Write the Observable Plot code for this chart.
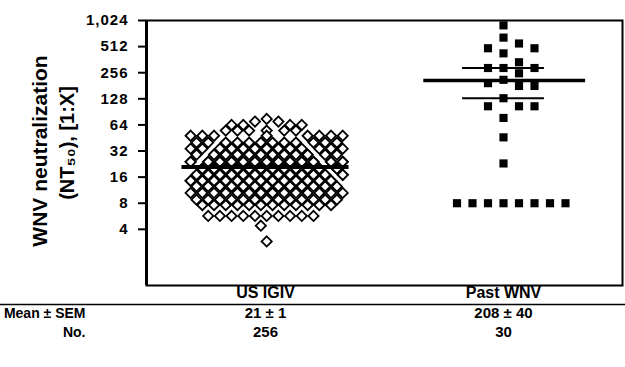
<!DOCTYPE html>
<html>
<head>
<meta charset="utf-8">
<script src="https://cdn.jsdelivr.net/npm/d3@7"></script>
<script src="https://cdn.jsdelivr.net/npm/@observablehq/plot@0.6"></script>
<style>
  html, body { margin: 0; padding: 0; background: #fff; }
  #chart svg { display: block; }
  .wnv [aria-label="y-axis tick label"] text { letter-spacing: 1px; }
</style>
</head>
<body>
<div id="chart"></div>
<script>
// ---------------- data ----------------
const groups = ["US IGIV", "Past WNV"];
const meanLabels = ["21 \u00b1 1", "208 \u00b1 40"];
const countLabels = ["256", "30"];
const rowLabels = ["Mean \u00b1 SEM", "No."];
const means = [21, 208];
const pastBars = [130, 290];
const yTicks = [4, 8, 16, 32, 64, 128, 256, 512, 1024];

const usIgiv = [
  75,
  70, 70,
  64, 64, 64, 64,
  55, 55, 55, 55, 55, 55,
  48, 48, 48, 48, 48, 48, 48, 48,
  40, 40, 40, 40, 40, 40, 40, 40, 40, 40, 40, 40,
  34, 34, 34, 34, 34, 34, 34, 34, 34, 34, 34, 34, 34, 34, 34, 34, 34, 34,
  29, 29, 29, 29, 29, 29, 29, 29, 29, 29, 29, 29, 29, 29, 29, 29, 29, 29, 29, 29, 29, 29,
  24, 24, 24, 24, 24, 24, 24, 24, 24, 24, 24, 24, 24, 24, 24, 24, 24, 24, 24, 24, 24, 24, 24, 24, 24, 24,
  20, 20, 20, 20, 20, 20, 20, 20, 20, 20, 20, 20, 20, 20, 20, 20, 20, 20, 20, 20, 20, 20, 20, 20, 20, 20, 20, 20,
  17, 17, 17, 17, 17, 17, 17, 17, 17, 17, 17, 17, 17, 17, 17, 17, 17, 17, 17, 17, 17, 17, 17, 17, 17, 17, 17, 17, 17, 17,
  14.5, 14.5, 14.5, 14.5, 14.5, 14.5, 14.5, 14.5, 14.5, 14.5, 14.5, 14.5, 14.5, 14.5, 14.5, 14.5, 14.5, 14.5, 14.5, 14.5, 14.5, 14.5, 14.5, 14.5, 14.5, 14.5,
  12.5, 12.5, 12.5, 12.5, 12.5, 12.5, 12.5, 12.5, 12.5, 12.5, 12.5, 12.5, 12.5, 12.5, 12.5, 12.5, 12.5, 12.5, 12.5, 12.5,
  10.5, 10.5, 10.5, 10.5, 10.5, 10.5, 10.5, 10.5, 10.5, 10.5, 10.5, 10.5, 10.5, 10.5, 10.5, 10.5,
  8.8, 8.8, 8.8, 8.8, 8.8, 8.8, 8.8, 8.8, 8.8, 8.8, 8.8, 8.8, 8.8,
  7.6, 7.6, 7.6, 7.6, 7.6, 7.6, 7.6, 7.6, 7.6, 7.6, 7.6, 7.6,
  5.7, 5.7, 5.7, 5.7, 5.7, 5.7, 5.7, 5.7, 5.7, 5.7,
  4.4,
  2.9
];

const pastWnv = [
  900, 650, 556, 490, 490, 428, 338, 290, 290, 290,
  252, 212, 194, 180, 180, 130, 105, 105, 105, 77,
  46, 23, 8, 8, 8, 8, 8, 8, 8, 8
];

// ---------------- layout ----------------
const W = 625, H = 367;
const M = {top: 20, right: 3, bottom: 82, left: 146};
const yDomain = [0.9, 1024];
const yPx = Plot.scale({y: {type: "log", base: 2, domain: yDomain, range: [H - M.bottom, M.top]}});
const unitPx = (W - M.left - M.right) / 2;

// Prism-like scatter: spread points sideways in slots so they do not overlap (where room allows)
function scatterColumn(values, group, center, {step, half, rightFirst, collide}) {
  const cands = [0];
  for (let k = 1; k * step <= half + 1e-6; k++) {
    if (rightFirst) cands.push(k * step, -k * step); else cands.push(-k * step, k * step);
  }
  const order = d3.range(values.length).sort((a, b) => d3.descending(values[a], values[b]));
  const placed = [];
  const out = [];
  for (const i of order) {
    const py = yPx.apply(values[i]);
    let best = 0, bestN = Infinity;
    for (const c of cands) {
      let n = 0;
      for (const p of placed) if (collide(c - p.x, py - p.y)) n++;
      if (n < bestN) { bestN = n; best = c; if (n === 0) break; }
    }
    placed.push({x: best, y: py});
    out.push({group, value: values[i], x: center + best / unitPx});
  }
  return out;
}

const diamonds = scatterColumn(usIgiv, groups[0], 0.505, {
  step: 5.85, half: 79, rightFirst: false,
  collide: (dx, dy) => Math.abs(dx) + Math.abs(dy) < 11
});
const squares = scatterColumn(pastWnv, groups[1], 1.5, {
  step: 15.5, half: 62, rightFirst: true,
  collide: (dx, dy) => Math.abs(dx) < 10 && Math.abs(dy) < 11
});

const table = groups.map((g, i) => ({group: g, center: i + 0.5, mean: means[i], meanText: meanLabels[i], nText: countLabels[i]}));

const chart = Plot.plot({
  width: W,
  height: H,
  marginTop: M.top,
  marginRight: M.right,
  marginBottom: M.bottom,
  marginLeft: M.left,
  className: "wnv",
  style: {fontFamily: "'Liberation Sans', Arial, sans-serif", fontSize: "15px", fontWeight: "bold", color: "#000", background: "#fff"},
  x: {domain: [0, 2], axis: null},
  y: {type: "log", base: 2, domain: yDomain, axis: null},
  marks: [
    Plot.frame({stroke: "#000", strokeWidth: 2}),
    Plot.ruleX([0], {stroke: "#000", strokeWidth: 3}),
    Plot.axisY(yTicks, {tickSize: 8, tickPadding: 10, tickFormat: d3.format(","), fontSize: 15, strokeWidth: 2, label: null}),
    Plot.dot(diamonds, {x: "x", y: "value", symbol: "diamond2", r: 4.6, stroke: "#000", fill: "#fff", strokeWidth: 1.8}),
    Plot.dot(squares, {x: "x", y: "value", symbol: "square", r: 4.6, fill: "#000", stroke: "none"}),
    Plot.ruleY(table.filter(d => d.group === groups[0]), {x1: d => d.center - 0.351, x2: d => d.center + 0.351, y: "mean", stroke: "#000", strokeWidth: 4}),
    Plot.ruleY(table.filter(d => d.group === groups[1]), {x1: d => d.center - 0.335, x2: d => d.center + 0.345, y: "mean", stroke: "#000", strokeWidth: 3.5}),
    Plot.ruleY(pastBars, {x1: 1.5 - 0.172, x2: 1.5 + 0.172, stroke: "#000", strokeWidth: 2}),
    // y-axis title (two lines)
    Plot.text(["WNV neutralization"], {frameAnchor: "left", textAnchor: "middle", rotate: -90, dx: -106, dy: -2, fontSize: 21}),
    Plot.text(["(NT\u2085\u2080), [1:X]"], {frameAnchor: "left", textAnchor: "middle", rotate: -90, dx: -79, dy: -10, fontSize: 20}),
    // category labels and table
    Plot.text(table, {x: "center", text: "group", frameAnchor: "bottom", dy: 12, fontSize: 16}),
    Plot.ruleY([yDomain[0]], {dy: 19, insetLeft: -M.left, insetRight: -M.right, stroke: "#000", strokeWidth: 1.5}),
    Plot.text(table, {x: "center", text: "meanText", frameAnchor: "bottom", dy: 32, fontSize: 15}),
    Plot.text(table, {x: "center", text: "nText", frameAnchor: "bottom", dy: 51, fontSize: 15}),
    Plot.text([rowLabels[0]], {frameAnchor: "bottom-left", dx: -61, dy: 32, textAnchor: "end", fontSize: 14}),
    Plot.text([rowLabels[1]], {frameAnchor: "bottom-left", dx: -61, dy: 51, textAnchor: "end", fontSize: 14})
  ]
});
document.getElementById("chart").appendChild(chart);
</script>
</body>
</html>
